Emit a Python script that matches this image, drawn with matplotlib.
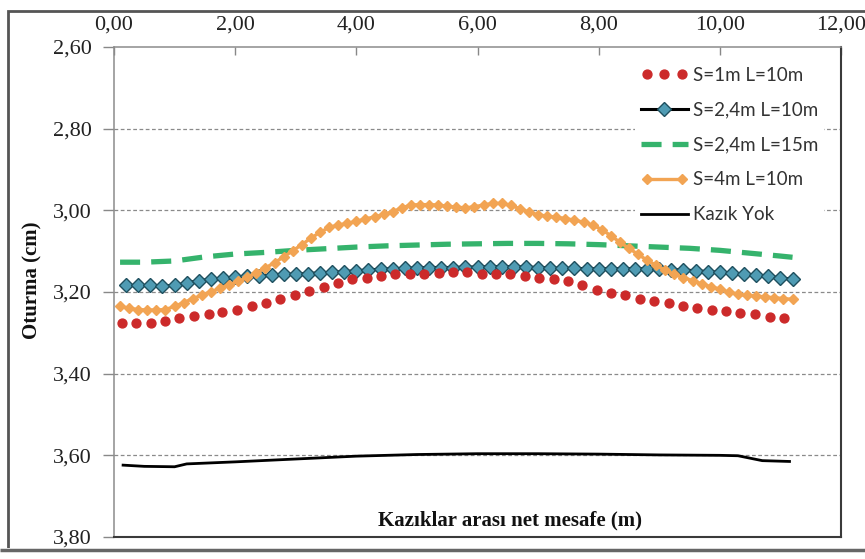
import matplotlib
matplotlib.use("Agg")
import matplotlib.pyplot as plt
from matplotlib.legend_handler import HandlerLine2D
from matplotlib.patches import Rectangle

# ---------------- data ----------------
x_ticks = [0, 2, 4, 6, 8, 10, 12]
x_tick_labels = ["0,00", "2,00", "4,00", "6,00", "8,00", "10,00", "12,00"]
y_ticks = [2.6, 2.8, 3.0, 3.2, 3.4, 3.6, 3.8]
y_tick_labels = ["2,60", "2,80", "3,00", "3,20", "3,40", "3,60", "3,80"]

# S=1m L=10m (red dots)
x_s1 = [0.13, 0.37, 0.61, 0.84, 1.08, 1.32, 1.56, 1.79, 2.03, 2.27, 2.51, 2.74,
        2.98, 3.22, 3.46, 3.69, 3.93, 4.17, 4.41, 4.64, 4.88, 5.12, 5.36, 5.59,
        5.83, 6.07, 6.31, 6.54, 6.78, 7.02, 7.26, 7.49, 7.73, 7.97, 8.21, 8.44,
        8.68, 8.92, 9.16, 9.39, 9.63, 9.87, 10.11, 10.34, 10.58, 10.82, 11.06]
y_s1 = [3.275, 3.277, 3.275, 3.271, 3.263, 3.259, 3.253, 3.249, 3.243, 3.235,
        3.226, 3.216, 3.208, 3.198, 3.188, 3.179, 3.169, 3.165, 3.161, 3.157,
        3.155, 3.155, 3.153, 3.152, 3.152, 3.155, 3.156, 3.157, 3.161, 3.165,
        3.169, 3.174, 3.184, 3.194, 3.202, 3.208, 3.217, 3.222, 3.228, 3.235,
        3.239, 3.243, 3.247, 3.251, 3.255, 3.261, 3.263]

# S=2,4m L=10m (black line, teal diamonds)
x_s24 = [0.2, 0.4, 0.6, 0.8, 1.0, 1.2, 1.4, 1.6, 1.8, 2.0, 2.2, 2.4, 2.6, 2.8,
         3.0, 3.2, 3.4, 3.6, 3.8, 4.0, 4.2, 4.4, 4.6, 4.8, 5.0, 5.2, 5.4, 5.6,
         5.8, 6.0, 6.2, 6.4, 6.6, 6.8, 7.0, 7.2, 7.4, 7.6, 7.8, 8.0, 8.2, 8.4,
         8.6, 8.8, 9.0, 9.2, 9.4, 9.6, 9.8, 10.0, 10.2, 10.4, 10.6, 10.8, 11.0, 11.2]
y_s24 = [3.184, 3.184, 3.184, 3.185, 3.184, 3.178, 3.172, 3.169, 3.166, 3.164,
         3.162, 3.161, 3.159, 3.157, 3.156, 3.155, 3.153, 3.152, 3.150, 3.148,
         3.146, 3.144, 3.143, 3.142, 3.141, 3.140, 3.140, 3.140, 3.139, 3.139,
         3.138, 3.138, 3.138, 3.139, 3.140, 3.141, 3.142, 3.142, 3.143, 3.143,
         3.143, 3.143, 3.143, 3.143, 3.144, 3.145, 3.146, 3.148, 3.150, 3.152,
         3.154, 3.156, 3.159, 3.162, 3.165, 3.169]

# S=2,4m L=15m (green dashed)
x_s24b = [0.1, 0.5, 1.0, 1.5, 2.0, 2.5, 3.0, 3.5, 4.0, 4.5, 5.0, 5.5, 6.0, 6.5,
          7.0, 7.5, 8.0, 8.5, 9.0, 9.5, 10.0, 10.5, 11.0, 11.2]
y_s24b = [3.127, 3.127, 3.124, 3.114, 3.107, 3.103, 3.098, 3.094, 3.090, 3.087,
          3.085, 3.083, 3.082, 3.081, 3.081, 3.082, 3.084, 3.087, 3.090, 3.093,
          3.098, 3.105, 3.112, 3.115]

# S=4m L=10m (orange line with small diamonds)
x_s4 = [0.10, 0.25, 0.40, 0.55, 0.70, 0.85, 1.00, 1.15, 1.30, 1.45, 1.60, 1.75,
        1.90, 2.05, 2.20, 2.35, 2.50, 2.65, 2.80, 2.95, 3.10, 3.25, 3.40, 3.55,
        3.70, 3.85, 4.00, 4.15, 4.30, 4.45, 4.60, 4.75, 4.90, 5.05, 5.20, 5.35,
        5.50, 5.65, 5.80, 5.95, 6.10, 6.25, 6.40, 6.55, 6.70, 6.85, 7.00, 7.15,
        7.30, 7.45, 7.60, 7.75, 7.90, 8.05, 8.20, 8.35, 8.50, 8.65, 8.80, 8.95,
        9.10, 9.25, 9.40, 9.55, 9.70, 9.85, 10.00, 10.15, 10.30, 10.45, 10.60,
        10.75, 10.90, 11.05, 11.20]
y_s4 = [3.235, 3.240, 3.243, 3.244, 3.244, 3.243, 3.235, 3.226, 3.216, 3.208,
        3.199, 3.191, 3.182, 3.174, 3.164, 3.153, 3.141, 3.128, 3.114, 3.099,
        3.084, 3.068, 3.054, 3.042, 3.036, 3.032, 3.027, 3.021, 3.016, 3.010,
        3.003, 2.994, 2.987, 2.986, 2.986, 2.987, 2.990, 2.992, 2.994, 2.991,
        2.987, 2.983, 2.983, 2.988, 2.996, 3.004, 3.011, 3.014, 3.017, 3.020,
        3.024, 3.029, 3.036, 3.047, 3.062, 3.078, 3.093, 3.108, 3.122, 3.135,
        3.147, 3.157, 3.165, 3.172, 3.180, 3.187, 3.193, 3.200, 3.206, 3.208,
        3.210, 3.212, 3.214, 3.216, 3.218]

# Kazık Yok (black line)
x_none = [0.15, 0.5, 1.0, 1.2, 2.0, 3.0, 4.0, 5.0, 6.0, 7.0, 8.0, 9.0, 10.0,
          10.3, 10.7, 11.15]
y_none = [3.624, 3.627, 3.628, 3.621, 3.616, 3.609, 3.602, 3.598, 3.596, 3.596,
          3.597, 3.599, 3.600, 3.601, 3.613, 3.615]

labels = ["S=1m L=10m", "S=2,4m L=10m", "S=2,4m L=15m", "S=4m L=10m", "Kazık Yok"]

# ---------------- figure ----------------
W, H = 865, 559
fig = plt.figure(figsize=(W / 100, H / 100), dpi=100)
ax = fig.add_axes([114 / W, 1 - 537 / H, (841 - 114) / W, (537 - 47) / H])

red = "#cc2a2a"
teal = "#4f9bb3"
green = "#35b36c"
orange = "#f2a453"

l1, = ax.plot(x_s1, y_s1, linestyle="None", marker="o", ms=6.4,
              color=red, mec=red, zorder=5)
l2, = ax.plot(x_s24, y_s24, color="black", lw=2.2, marker="D", ms=7.2,
              mfc=teal, mec="#1e4f5e", mew=1.0, zorder=4)
l3, = ax.plot(x_s24b, y_s24b, color=green, lw=3.8, dashes=(3.8, 2.1), zorder=3)
l4, = ax.plot(x_s4, y_s4, color=orange, lw=2.4, marker="D", ms=5.2,
              mfc=orange, mec=orange, zorder=6)
l5, = ax.plot(x_none, y_none, color="black", lw=2.0, zorder=3)

ax.set_xlim(0, 12)
ax.set_ylim(3.8, 2.6)

ax.xaxis.tick_top()
ax.set_xticks(x_ticks)
ax.set_xticklabels(x_tick_labels)
ax.set_yticks(y_ticks)
ax.set_yticklabels(y_tick_labels)

serif = "Liberation Serif"
for t in ax.get_xticklabels() + ax.get_yticklabels():
    t.set_fontfamily(serif)
    t.set_fontsize(16)
    t.set_color("#222222")

ax.tick_params(axis="x", direction="in", length=6, width=1, color="#888888",
               pad=9, top=True, bottom=False)
ax.tick_params(axis="y", direction="out", length=8, width=1, color="#888888",
               pad=8)

for g in y_ticks[1:-1]:
    ax.axhline(g, color="#8a8a8a", lw=0.9, ls=(0, (3, 2)), zorder=1)

for s in ["left", "top"]:
    ax.spines[s].set_color("#8c8c8c")
    ax.spines[s].set_linewidth(1.1)
for s in ["right", "bottom"]:
    ax.spines[s].set_color("#3a3a3a")
    ax.spines[s].set_linewidth(1.5)

ax.text(0.545, 0.033, "Kazıklar arası net mesafe (m)", transform=ax.transAxes,
        ha="center", va="center", fontfamily=serif, fontweight="bold",
        fontsize=15, color="#111111")
fig.text(32 / W, 1 - 280 / H, "Oturma (cm)", rotation=90, ha="center",
         va="center", fontfamily=serif, fontweight="bold", fontsize=15,
         color="#111111")

leg = ax.legend([l1, l2, l3, l4, l5], labels,
                handler_map={l1: HandlerLine2D(numpoints=3),
                             l2: HandlerLine2D(numpoints=1),
                             l4: HandlerLine2D(numpoints=2)},
                loc="upper left", bbox_to_anchor=(626 / W, 1 - 52 / H),
                bbox_transform=fig.transFigure,
                frameon=True, facecolor="white", edgecolor="none", framealpha=1,
                fancybox=False, borderpad=0.3, handlelength=2.5,
                handletextpad=0.25, labelspacing=0.95,
                prop={"family": "Lato", "size": 13.5})
for t in leg.get_texts():
    t.set_color("#333333")
leg.set_zorder(10)

# outer frame of the picture
fig.patches.append(Rectangle((8 / W, 2 / H), (W + 10 - 8) / W, (548 - 2) / H,
                             transform=fig.transFigure, fill=False,
                             edgecolor="#555555", lw=2.0))
fig.patches.append(Rectangle((0, 0), 1, 11 / H, transform=fig.transFigure,
                             fill=True, facecolor="white", edgecolor="none"))
fig.patches.append(Rectangle((0, 9.5 / H), 1, 0, transform=fig.transFigure,
                             fill=False, edgecolor="#666666", lw=2.5))

fig.savefig("out.png", dpi=100)
